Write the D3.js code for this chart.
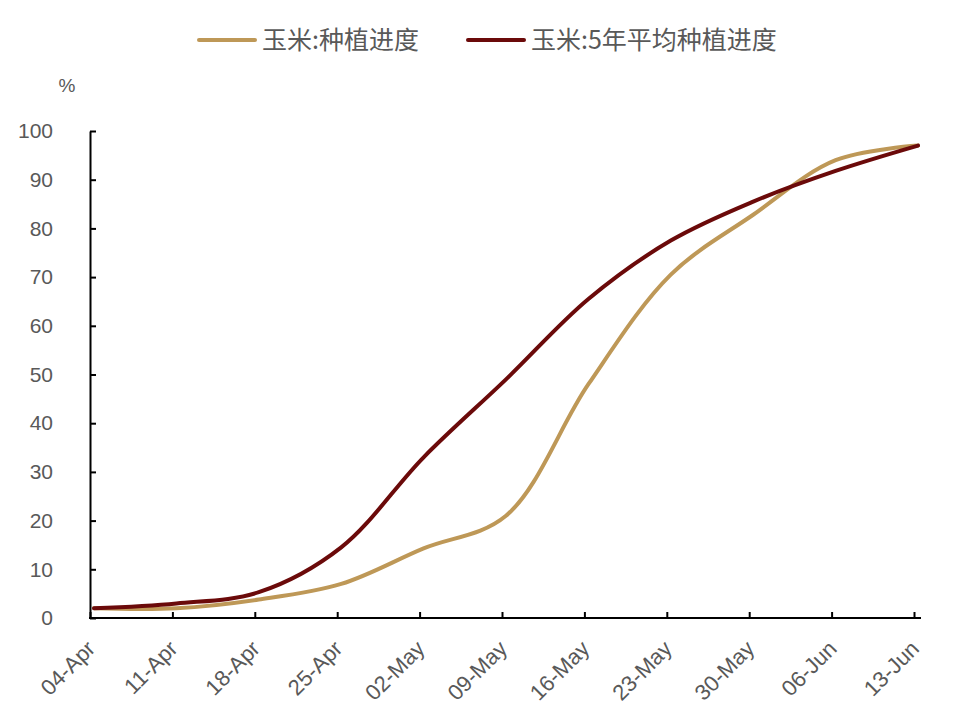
<!DOCTYPE html>
<html>
<head>
<meta charset="utf-8">
<script src="https://cdn.jsdelivr.net/npm/d3@7"></script>
<style>
  html, body { margin: 0; padding: 0; background: #fff; }
  svg { display: block; }
  text { font-family: "Liberation Sans", Arial, "Noto Sans CJK SC", sans-serif; fill: #595959; }
  .cjk { font-family: "Noto Sans CJK SC", "Liberation Sans", sans-serif; }
</style>
</head>
<body>
<svg id="chart" width="966" height="722"></svg>
<script>
const categories = ["04-Apr","11-Apr","18-Apr","25-Apr","02-May","09-May","16-May","23-May","30-May","06-Jun","13-Jun"];
const seriesNames = ["玉米:种植进度", "玉米:5年平均种植进度"];
const plantingProgress = [2, 2, 3.8, 7, 14.3, 21, 48, 70.5, 82.8, 94, 97];
const fiveYearAverage = [2, 3, 5.3, 14.5, 33, 49, 65.5, 77.5, 85.5, 91.8, 97];
const yTicks = [0, 10, 20, 30, 40, 50, 60, 70, 80, 90, 100];
const colors = ["#BE9857", "#6B0A0A"];

const svg = d3.select("#chart");
const x = d3.scalePoint().domain(categories).range([94, 918]).padding(0);
const y = d3.scaleLinear().domain([0, 100]).range([618, 131]);

// Y axis
const yAxis = d3.axisLeft(y).tickValues(yTicks).tickSizeInner(-6).tickSizeOuter(0).tickPadding(37);
const gy = svg.append("g").attr("transform", "translate(90,0)").call(yAxis);
gy.select(".domain").attr("stroke", "#000").attr("stroke-width", 2);
gy.selectAll(".tick line").attr("stroke", "#000").attr("stroke-width", 2);
gy.selectAll(".tick text").style("font-size", "21px").attr("fill", "#595959");

// X axis
const xAxis = d3.axisBottom(x).tickSizeInner(-6).tickSizeOuter(0);
const gx = svg.append("g").attr("transform", "translate(-4,618)").call(xAxis);
gx.select(".domain").remove();
gx.selectAll(".tick line").attr("stroke", "#000").attr("stroke-width", 2);
gx.selectAll(".tick text")
  .style("font-size", "22px")
  .attr("fill", "#595959")
  .attr("text-anchor", "end")
  .attr("x", null).attr("y", null).attr("dy", null)
  .attr("transform", "translate(6,32) rotate(-45)");
svg.append("line")
  .attr("x1", 89).attr("x2", 921)
  .attr("y1", 618).attr("y2", 618)
  .attr("stroke", "#000").attr("stroke-width", 2);

// unit label
svg.append("text").attr("x", 67).attr("y", 92).attr("text-anchor", "middle")
  .style("font-size", "19px").text("%");

// lines
const line = d3.line()
  .x((d, i) => x(categories[i]))
  .y(d => y(d))
  .curve(d3.curveCatmullRom.alpha(0.5));

[plantingProgress, fiveYearAverage].forEach((s, k) => {
  svg.append("path")
    .attr("d", line(s))
    .attr("fill", "none")
    .attr("stroke", colors[k])
    .attr("stroke-width", 4)
    .attr("stroke-linecap", "round")
    .attr("stroke-linejoin", "round");
});

// legend
const legendItems = [{x: 199, tx: 262}, {x: 468, tx: 531}];
legendItems.forEach((l, k) => {
  svg.append("line")
    .attr("x1", l.x).attr("x2", l.x + 56)
    .attr("y1", 40).attr("y2", 40)
    .attr("stroke", colors[k]).attr("stroke-width", 4)
    .attr("stroke-linecap", "round");
  svg.append("text").attr("class", "cjk")
    .attr("x", l.tx).attr("y", 40).attr("dy", "0.36em")
    .style("font-size", "25px")
    .text(seriesNames[k]);
});
</script>
</body>
</html>
